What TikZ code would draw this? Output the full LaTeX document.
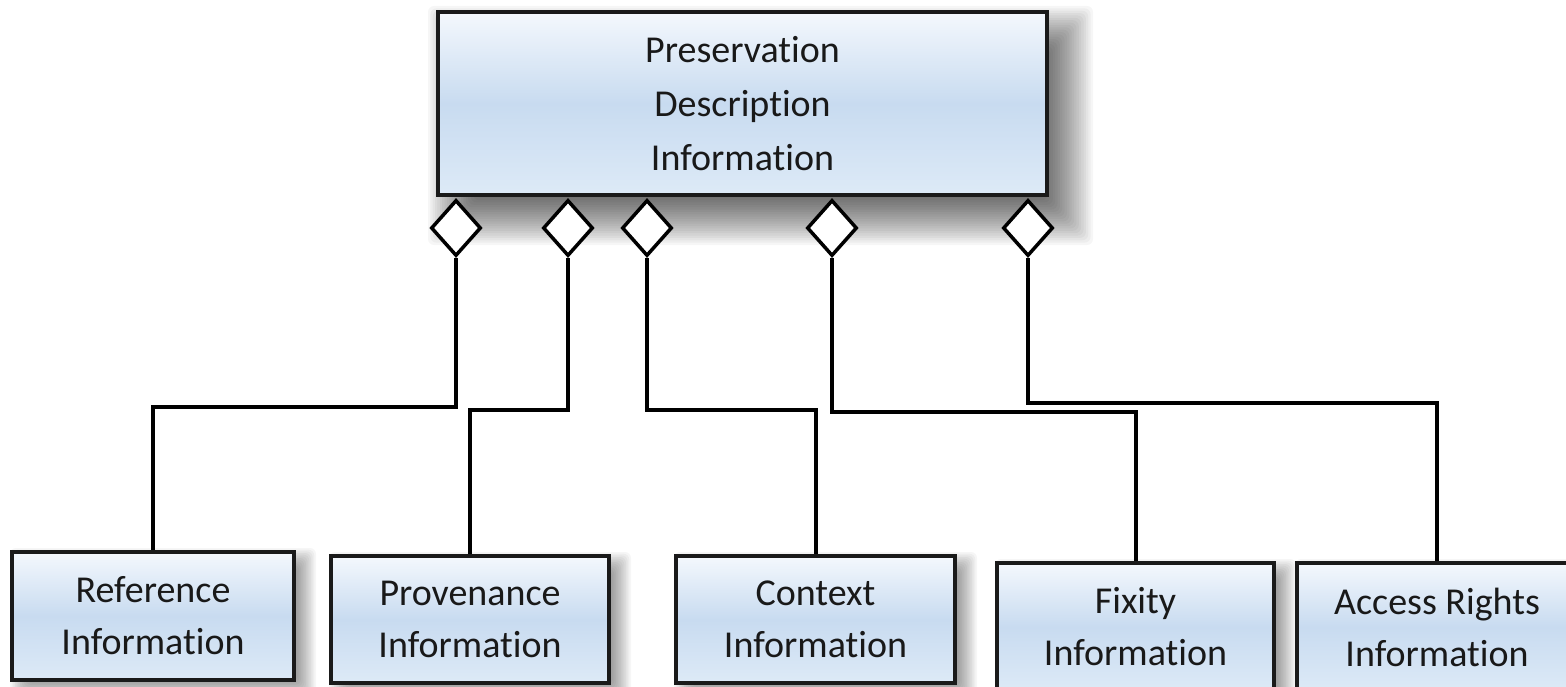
\documentclass[tikz,border=0pt]{standalone}
\usepackage{fontspec}
\setmainfont[Ligatures=NoCommon]{Carlito}
\usetikzlibrary{shapes.geometric,calc,backgrounds}

\definecolor{boxtop}{HTML}{F4F8FD}
\definecolor{boxmid}{HTML}{C8DBF0}
\definecolor{boxbot}{HTML}{DDEAF7}
\definecolor{edge}{HTML}{1A1A1A}

\tikzset{
  infobox/.style={draw=edge, line width=4pt, rectangle, inner sep=0pt,
    top color=boxtop, bottom color=boxbot, middle color=boxmid,
    align=center, text=black!90,
    font=\fontsize{38}{52}\selectfont},
  agg/.style={draw=black, line width=3.5pt, diamond, fill=white, inner sep=0pt,
    minimum width=50pt, minimum height=56pt},
  link/.style={line width=4pt, draw=black, line join=miter},
  shadowlayer/.style={fill=black, opacity=#1, rounded corners=6pt}
}

% soft drop shadow: #1 node, #2 x offset, #3 y offset (down), #4 spread, #5 steps
\newcommand\softshadow[5]{%
  \foreach \k in {1,...,#5}{%
    \pgfmathsetmacro\inset{(\k-1)*2*#4/#5}%
    \fill[shadowlayer=0.035]
      ($(#1.north west)+(#2-#4+\inset,#3-#4+\inset)$) rectangle
      ($(#1.south east)+(#2+#4-\inset,#3+#4-\inset)$);
  }%
}

\begin{document}
\begin{tikzpicture}[x=1pt, y=-1pt]
  \useasboundingbox (0,0) rectangle (1566,687);
  \clip (0,0) rectangle (1566,687);

  % parent class
  \node[infobox, minimum width=609pt, minimum height=183pt,
        font=\fontsize{38}{54}\selectfont] (pdi) at (742.5,103.5)
        {Preservation\\Description\\Information};

  % aggregation diamonds under the parent
  \node[agg] (d1) at (456,228) {};
  \node[agg] (d2) at (568,228) {};
  \node[agg] (d3) at (647,228) {};
  \node[agg] (d4) at (832,228) {};
  \node[agg] (d5) at (1028,228) {};

  % component classes
  \node[infobox, minimum width=282pt, minimum height=128pt] (ref) at (153,616)
        {Reference\\Information};
  \node[infobox, minimum width=278pt, minimum height=127pt] (prov) at (470,619.5)
        {Provenance\\Information};
  \node[infobox, minimum width=279pt, minimum height=127pt] (ctx) at (815.5,619.5)
        {Context\\Information};
  \node[infobox, minimum width=277pt, minimum height=128pt] (fix) at (1135.5,627)
        {Fixity\\Information};
  \node[infobox, minimum width=280pt, minimum height=128pt] (acc) at (1437,627)
        {Access Rights\\Information};

  % aggregation connectors
  \draw[link] (d1.south) -- ++(0,149) -| (ref.north);
  \draw[link] (d2.south) -- ++(0,152) -| (prov.north);
  \draw[link] (d3.south) -- ++(0,152) -| (ctx.north);
  \draw[link] (d4.south) -- ++(0,154) -| (fix.north);
  \draw[link] (d5.south) -- ++(0,145) -| (acc.north);

  % drop shadows behind the class boxes
  \begin{scope}[on background layer]
    \fill[white] (0,0) rectangle (1566,687);
    \softshadow{pdi}{18}{22}{26}{22}
    \softshadow{ref}{10}{8}{10}{12}
    \softshadow{prov}{10}{8}{10}{12}
    \softshadow{ctx}{10}{8}{10}{12}
    \softshadow{fix}{10}{8}{10}{12}
    \softshadow{acc}{10}{8}{10}{12}
  \end{scope}
\end{tikzpicture}
\end{document}
